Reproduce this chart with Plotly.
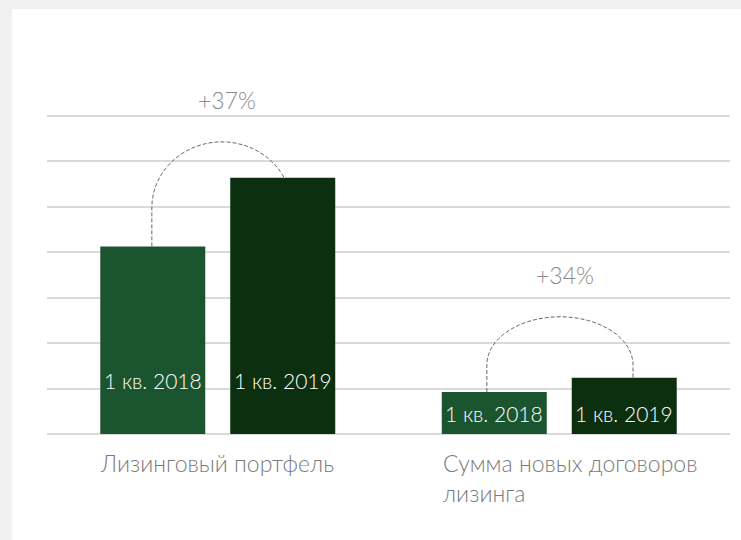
import numpy as np
import plotly.graph_objects as go

# ---------------- data ----------------
categories = ["Лизинговый портфель", "Сумма новых договоров<br>лизинга"]
periods = ["1 кв. 2018", "1 кв. 2019"]
values_2018 = [41.3, 9.25]
values_2019 = [56.4, 12.4]
growth_labels = ["+37%", "+34%"]
y_ticks = [0, 10, 20, 30, 40, 50, 60, 70]

# ---------------- style ----------------
bar_colors = ["#1b5530", "#0b2f0f"]
FONT = "Lato"
W, H = 741, 540
ML, MR, MT, MB = 47, 11, 114, 106
Y_MAX = 70.44
BARGAP = 0.2387
BARGROUPGAP = 0.1923

x_pos = list(range(len(categories)))
slot = (1 - BARGAP) / 2
offsets = [-slot / 2, slot / 2]
half_bar = slot * (1 - BARGROUPGAP) / 2

fig = go.Figure()
for name, vals, col in zip(periods, [values_2018, values_2019], bar_colors):
    fig.add_trace(go.Bar(
        x=x_pos, y=vals, name=name,
        marker=dict(color=col, line=dict(width=0)),
        hoverinfo="skip",
    ))

annotations = []
shapes = []

# label heights per group (data units) and arc geometry
label_y = [11.7, 4.5]
arc_cy = [49.8, 15.2]
arc_ry = [14.5, 10.6]
arc_rx = [0.205, 0.214]
arc_dx = [0.012, 0.002]

for g in x_pos:
    vals = [values_2018[g], values_2019[g]]
    # bar labels
    for k in range(2):
        annotations.append(dict(
            x=g + offsets[k], y=label_y[g], xref="x", yref="y",
            text=periods[k], showarrow=False,
            font=dict(family=FONT, size=21, color="white", weight=300),
            xanchor="center", yanchor="middle",
        ))
    # category labels
    annotations.append(dict(
        x=g + offsets[0] - half_bar, y=0, xref="x", yref="paper",
        text=categories[g], showarrow=False, align="left",
        font=dict(family=FONT, size=23, color="#7a7a7a", weight=300),
        xanchor="left", yanchor="top", yshift=-13, xshift=-2,
    ))
    # dashed arc
    cx = g + arc_dx[g]
    rx = arc_rx[g]
    cy = arc_cy[g]
    ry = arc_ry[g]
    t = np.linspace(np.pi, 0, 60)
    xs = cx + rx * np.cos(t)
    ys = cy + ry * np.sin(t)
    path = f"M {cx - rx},{vals[0]} L {cx - rx},{cy} "
    path += " ".join(f"L {a},{b}" for a, b in zip(xs, ys))
    path += f" L {cx + rx},{vals[1]}"
    shapes.append(dict(
        type="path", path=path, xref="x", yref="y", layer="between",
        line=dict(color="#666666", width=1, dash="4px,2px"),
    ))
    # growth label
    annotations.append(dict(
        x=cx + 0.015, y=cy + ry, xref="x", yref="y",
        text=growth_labels[g], showarrow=False,
        font=dict(family=FONT, size=23, color="#8a8a8a", weight=300),
        xanchor="center", yanchor="middle", yshift=42,
    ))

# white panel on light grey frame
pw = W - ML - MR
ph = H - MT - MB
shapes.append(dict(
    type="rect", xref="paper", yref="paper", layer="below",
    x0=(12 - ML) / pw, x1=(W + 5 - ML) / pw,
    y0=(H - MB - (H + 5)) / ph, y1=(H - MB - 9) / ph,
    fillcolor="white", line=dict(width=0),
))

fig.update_layout(
    width=W, height=H,
    margin=dict(l=ML, r=MR, t=MT, b=MB),
    paper_bgcolor="#f1f1f1",
    plot_bgcolor="white",
    barmode="group",
    bargap=BARGAP,
    bargroupgap=BARGROUPGAP,
    showlegend=False,
    annotations=annotations,
    shapes=shapes,
    xaxis=dict(range=[-0.5, 1.5], showticklabels=False, showgrid=False,
               zeroline=False, showline=False, ticks=""),
    yaxis=dict(range=[0, Y_MAX], tickvals=y_ticks, showticklabels=False,
               showgrid=True, gridcolor="#dadada", gridwidth=2,
               zeroline=True, zerolinecolor="#dadada", zerolinewidth=2,
               showline=False, ticks=""),
    font=dict(family=FONT),
)

fig.write_html(
    "out.html",
    config={"displayModeBar": False, "staticPlot": True},
    post_script="document.body.style.margin='0';document.body.style.overflow='hidden';",
)
